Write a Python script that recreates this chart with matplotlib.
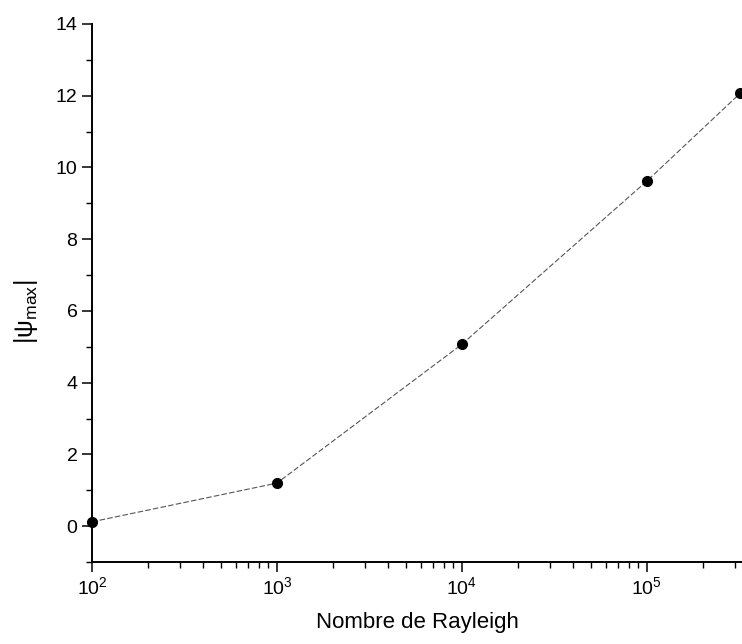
import matplotlib
matplotlib.use("Agg")
import matplotlib.pyplot as plt
from matplotlib.ticker import MultipleLocator, LogLocator

rayleigh = [1e2, 1e3, 1e4, 1e5, 3.2e5]
psi_max = [0.12, 1.2, 5.07, 9.62, 12.07]

plt.rcParams['font.family'] = ['Liberation Sans', 'DejaVu Sans']
plt.rcParams['mathtext.fontset'] = 'custom'
plt.rcParams['mathtext.rm'] = 'Liberation Sans'
plt.rcParams['mathtext.it'] = 'Liberation Sans:italic'
plt.rcParams['mathtext.sf'] = 'Liberation Sans'

fig = plt.figure(figsize=(7.42, 6.44), dpi=100)
ax = fig.add_axes([92/742, 1-562/644, 1-92/742, (562-24)/644])

ax.plot(rayleigh, psi_max, color='#555555', lw=0.8, ls=(0, (5, 2)), zorder=2)
ax.plot(rayleigh, psi_max, 'o', color='black', ms=7, zorder=3, clip_on=False)

ax.set_xscale('log')
ax.set_xlim(1e2, 3.27e5)
ax.set_ylim(-1, 14)
ax.yaxis.set_major_locator(MultipleLocator(2))
ax.yaxis.set_minor_locator(MultipleLocator(1))
ax.xaxis.set_major_locator(LogLocator(base=10, numticks=10))
ax.xaxis.set_minor_locator(LogLocator(base=10, subs=range(2, 10), numticks=20))

for s in ['top', 'right']:
    ax.spines[s].set_visible(False)
for s in ['left', 'bottom']:
    ax.spines[s].set_linewidth(1.4)

ax.tick_params(which='major', direction='out', length=7, width=1.1, labelsize=14)
ax.tick_params(which='minor', direction='out', length=4, width=1.0)

ax.set_xlabel('Nombre de Rayleigh', fontsize=16, labelpad=10)
ax.set_ylabel(r'$|\mathrm{\psi}_{\mathrm{max}}|$', fontsize=18)
ax.yaxis.set_label_coords(-0.08, 0.465)

fig.savefig('out.png', dpi=100)
